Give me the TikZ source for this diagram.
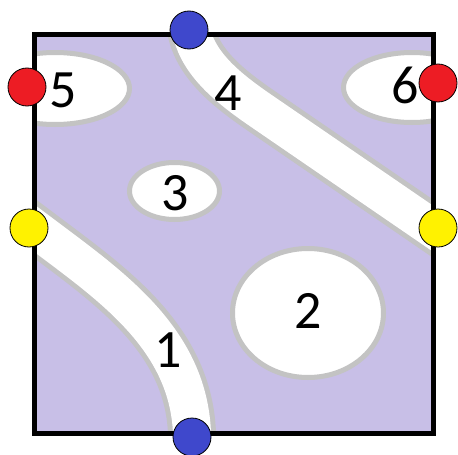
\documentclass[tikz,border=0pt]{standalone}
\usepackage{fontspec}
\setmainfont{Carlito}
\usetikzlibrary{positioning}
\definecolor{LV}{HTML}{C8BFE7}
\definecolor{GR}{HTML}{C3C3C3}
\definecolor{PR}{HTML}{ED1C24}
\definecolor{PY}{HTML}{FFF200}
\definecolor{PI}{HTML}{3F48CC}

\tikzset{
  band/.style={draw=GR, line width=48pt},
  bandcore/.style={draw=white, line width=38pt},
  pool/.style={fill=white, draw=GR, line width=5pt},
  port/.style={circle, draw=black, line width=0.8pt,
               minimum size=38pt, inner sep=0pt},
  num/.style={font=\fontsize{54}{54}\selectfont, inner sep=0pt}
}

\begin{document}
\begin{tikzpicture}[x=1pt,y=-1pt]
        \useasboundingbox (0,0) rectangle (458,455);

        %% ── field ───────────────────────────────────
        \fill[LV] (34,34) rectangle (433,433);

        %% ── channels and pools, clipped to the field ─
        \begin{scope}
          \clip (34,34) rectangle (433,433);

          %% channels: grey rim first, white core on top
          \foreach \sty in {band,bandcore}{
            \draw[\sty] (10,210) -- (34,228)
              .. controls (105,282) and (188,335) .. (192,433)
              -- (192,460);
            \draw[\sty] (186,10) -- (192,34)
              .. controls (200,65) and (228,88) .. (260,110)
              -- (470,254);
          }

          %% pools
          \filldraw[pool] (55,88.5) ellipse [x radius=74.5, y radius=36];
          \filldraw[pool] (412,87.5) ellipse [x radius=68.5, y radius=35];
          \filldraw[pool] (174.5,191) ellipse [x radius=45, y radius=28.5];
          \filldraw[pool] (308,313) ellipse [x radius=75.5, y radius=64.5];
        \end{scope}

        %% ── frame ───────────────────────────────────
        \draw[line width=5pt] (34,34) rectangle (433,433);

        %% ── ports ON TOP of frame ───────────────────
        \foreach \nm/\c/\x/\y in {top/PI/189/30, bottom/PI/192/437,
                                  lred/PR/27/87, rred/PR/438/83,
                                  lyel/PY/29/228, ryel/PY/438/228}{
          \node[port, fill=\c] (port-\nm) at (\x,\y) {};
        }

        %% ── labels ──────────────────────────────────
        \node[num] (n1) at (168,350) {1};
        \node[num] (n2) at (308,311) {2};
        \node[num] (n3) at (175,193) {3};
        \node[num] (n4) at (228,93) {4};
        \node[num] (n5) at (63,90) {5};
        \node[num] (n6) at (405,85) {6};

      \end{tikzpicture}
\end{document}
